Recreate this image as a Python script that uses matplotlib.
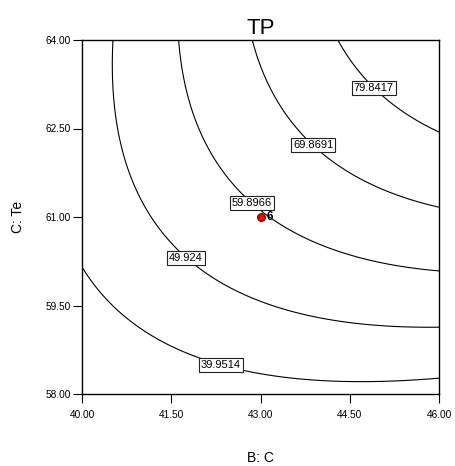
#!/usr/bin/env python3
"""TP response surface contour over B: C and C: Te (quadratic model, coded units)."""
import matplotlib
matplotlib.use("Agg")
import matplotlib.pyplot as plt
import numpy as np

plt.rcParams["font.family"] = ["Liberation Sans", "DejaVu Sans"]

# factor ranges (actual units)
b_range = [40.0, 46.0]
c_range = [58.0, 64.0]
b_ticks = [40.0, 41.5, 43.0, 44.5, 46.0]
c_ticks = [58.0, 59.5, 61.0, 62.5, 64.0]

# quadratic model in coded units: b0, B, C, BC, B^2, C^2
model_terms = ["1", "B", "C", "BC", "B2", "C2"]
model_coef = [59.265, 12.935, 17.035, 9.330, -3.772, -5.397]

levels = [39.9514, 49.924, 59.8966, 69.8691, 79.8417]
# where the level boxes sit (B, C)
label_b = [42.36, 41.80, 42.90, 43.92, 44.94]
label_c = [58.59, 60.37, 61.29, 62.25, 63.23]

# design point (center, 6 replicates)
pt_b = [43.0]
pt_c = [61.0]
pt_text = ["6"]


def predict(b, c):
    x = (b - np.mean(b_range)) / (np.diff(b_range)[0] / 2)
    y = (c - np.mean(c_range)) / (np.diff(c_range)[0] / 2)
    k = dict(zip(model_terms, model_coef))
    return k["1"] + k["B"] * x + k["C"] * y + k["BC"] * x * y + k["B2"] * x * x + k["C2"] * y * y


def main() -> int:
    fig = plt.figure(figsize=(4.55, 4.66), dpi=100)
    ax = fig.add_axes([82 / 455, 1 - 394 / 466, 357 / 455, 354 / 466])

    bb, cc = np.meshgrid(np.linspace(*b_range, 300), np.linspace(*c_range, 300))
    zz = predict(bb, cc)
    cs = ax.contour(bb, cc, zz, levels=levels, colors="black", linewidths=0.8)

    fmt = {lev: f"{lev:g}" for lev in levels}
    texts = ax.clabel(cs, levels, inline=False, fmt=fmt, fontsize=8,
                      manual=list(zip(label_b, label_c)))
    for t in texts:
        t.set_rotation(0)
        t.set_bbox(dict(boxstyle="square,pad=0.18", facecolor="white",
                        edgecolor="#222222", linewidth=0.8))
        t.set_zorder(5)

    ax.plot(pt_b, pt_c, "o", color="red", markeredgecolor="#990000",
            markersize=5.5, zorder=6)
    for b, c, s in zip(pt_b, pt_c, pt_text):
        ax.annotate(s, (b, c), xytext=(4.5, 0), textcoords="offset points",
                    ha="left", va="center", fontsize=8.5, fontweight="bold", zorder=6)

    ax.set_xlim(*b_range)
    ax.set_ylim(*c_range)
    ax.set_xticks(b_ticks)
    ax.set_yticks(c_ticks)
    ax.set_xticklabels([f"{v:.2f}" for v in b_ticks])
    ax.set_yticklabels([f"{v:.2f}" for v in c_ticks])
    ax.tick_params(axis="x", direction="out", length=6.5, width=0.8, pad=5, labelsize=7.3)
    ax.tick_params(axis="y", direction="out", length=6.5, width=0.8, pad=1.5, labelsize=7.3)
    for sp in ax.spines.values():
        sp.set_linewidth(1.0)

    ax.set_title("TP", fontsize=16, pad=4)
    fig.text(260.5 / 455, 1 - 458 / 466, "B: C", ha="center", va="center", fontsize=10)
    fig.text(18 / 455, 1 - 217 / 466, "C: Te", ha="center", va="center",
             rotation=90, fontsize=10)

    fig.savefig("out.png", dpi=100)
    plt.close(fig)
    return 0


if __name__ == "__main__":
    raise SystemExit(main())
